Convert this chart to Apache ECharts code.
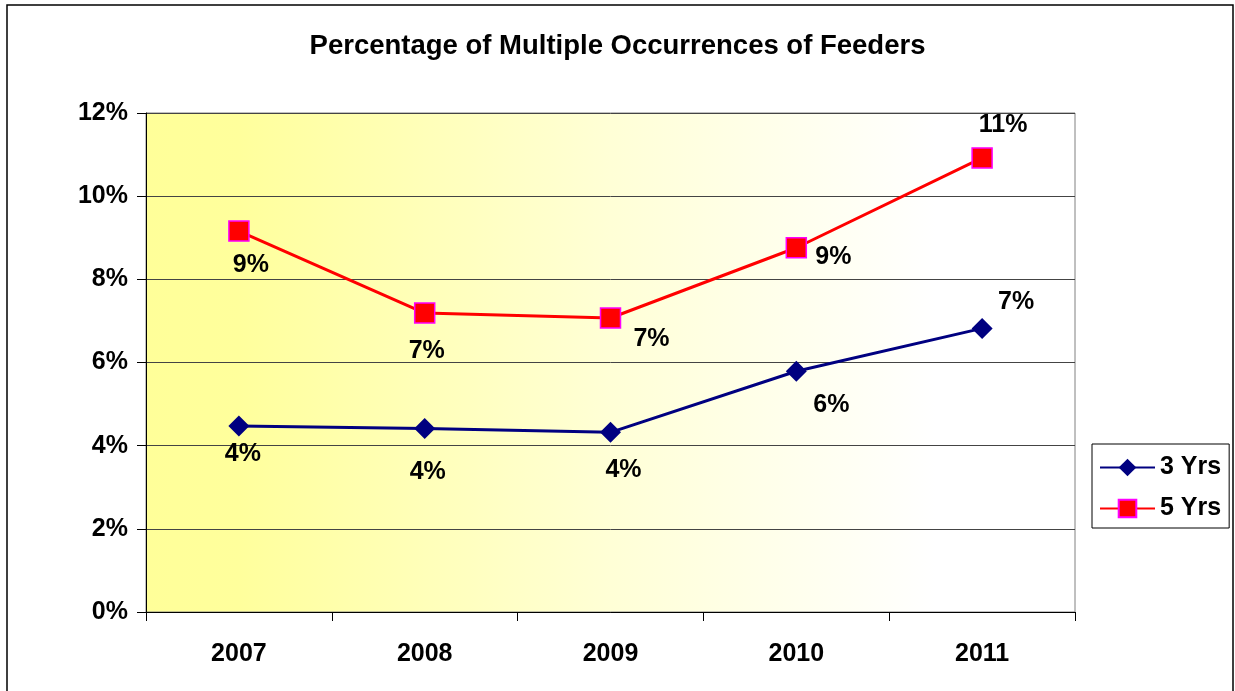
<!DOCTYPE html>
<html>
<head>
<meta charset="utf-8">
<script src="https://cdn.jsdelivr.net/npm/echarts@6/dist/echarts.min.js"></script>
<style>
html, body { margin: 0; padding: 0; background: #fff; }
#chart { width: 1235px; height: 691px; }
</style>
</head>
<body>
<div id="chart"></div>
<script>
const years = ['2007', '2008', '2009', '2010', '2011'];
const threeYrs = [4.47, 4.41, 4.32, 5.79, 6.82];
const fiveYrs = [9.16, 7.19, 7.07, 8.76, 10.92];
// where each data label sits relative to its point
const threeOffsets = [[4, 28], [3, 43], [13, 38], [35, 34], [34, -26]];
const fiveOffsets = [[12, 34], [2, 38], [41, 21], [37, 9], [21, -33]];

const fontFamily = '"Liberation Sans", Arial, sans-serif';

function withLabels(values, offsets) {
    return values.map(function(v, i) {
        return {
            value: v,
            label: { offset: offsets[i] }
        };
    });
}

const labelStyle = {
    show: true,
    position: 'inside',
    formatter: function(p) { return Math.round(p.value) + '%'; },
    color: '#000',
    fontSize: 25,
    fontWeight: 'bold',
    fontFamily: fontFamily
};

var option = {
    animation: false,
    backgroundColor: '#fff',
    title: {
        text: 'Percentage of Multiple Occurrences of Feeders',
        left: 'center',
        top: 27,
        textStyle: {
            color: '#000',
            fontSize: 27.5,
            fontWeight: 'bold',
            fontFamily: fontFamily
        }
    },
    graphic: [{
        type: 'rect',
        shape: { x: 7, y: 5, width: 1226, height: 700 },
        style: { fill: 'none', stroke: '#000', lineWidth: 1.5 },
        silent: true
    }],
    legend: {
        orient: 'vertical',
        left: 1092,
        top: 444,
        padding: [11, 8, 7, 7],
        itemGap: 16,
        itemWidth: 55,
        itemHeight: 22,
        borderColor: '#000',
        borderWidth: 1,
        textStyle: {
            color: '#000',
            fontSize: 25,
            fontWeight: 'bold',
            fontFamily: fontFamily
        },
        data: ['3 Yrs', '5 Yrs']
    },
    grid: {
        left: 146,
        right: 160,
        top: 113,
        bottom: 79,
        show: true,
        borderColor: '#808080',
        borderWidth: 1,
        backgroundColor: new echarts.graphic.LinearGradient(0, 0, 1, 0, [
            { offset: 0, color: '#FFFF99' },
            { offset: 0.1, color: '#FFFF9C' },
            { offset: 0.5, color: '#FFFFD6' },
            { offset: 0.85, color: '#FFFFFF' },
            { offset: 1, color: '#FFFFFF' }
        ])
    },
    xAxis: {
        type: 'category',
        data: years,
        boundaryGap: true,
        axisLine: { lineStyle: { color: '#000', width: 1 } },
        axisTick: { show: true, length: 9, lineStyle: { color: '#000' } },
        axisLabel: {
            margin: 30,
            color: '#000',
            fontSize: 25,
            fontWeight: 'bold',
            fontFamily: fontFamily
        }
    },
    yAxis: {
        type: 'value',
        min: 0,
        max: 12,
        interval: 2,
        axisLine: { show: true, lineStyle: { color: '#000', width: 1 } },
        axisTick: { show: true, length: 9, lineStyle: { color: '#000' } },
        axisLabel: {
            margin: 18,
            formatter: '{value}%',
            color: '#000',
            fontSize: 25,
            fontWeight: 'bold',
            fontFamily: fontFamily
        },
        splitLine: { show: true, lineStyle: { color: '#444', width: 1 } }
    },
    series: [{
        name: '3 Yrs',
        type: 'line',
        data: withLabels(threeYrs, threeOffsets),
        symbol: 'diamond',
        symbolSize: 21,
        lineStyle: { color: '#000080', width: 3 },
        itemStyle: { color: '#000080' },
        label: labelStyle
    }, {
        name: '5 Yrs',
        type: 'line',
        data: withLabels(fiveYrs, fiveOffsets),
        symbol: 'rect',
        symbolSize: 20,
        lineStyle: { color: '#FF0000', width: 3 },
        itemStyle: { color: '#FF0000', borderColor: '#FF00FF', borderWidth: 1.5 },
        label: labelStyle
    }]
};

var chart = echarts.init(document.getElementById('chart'));
chart.setOption(option);
</script>
</body>
</html>
